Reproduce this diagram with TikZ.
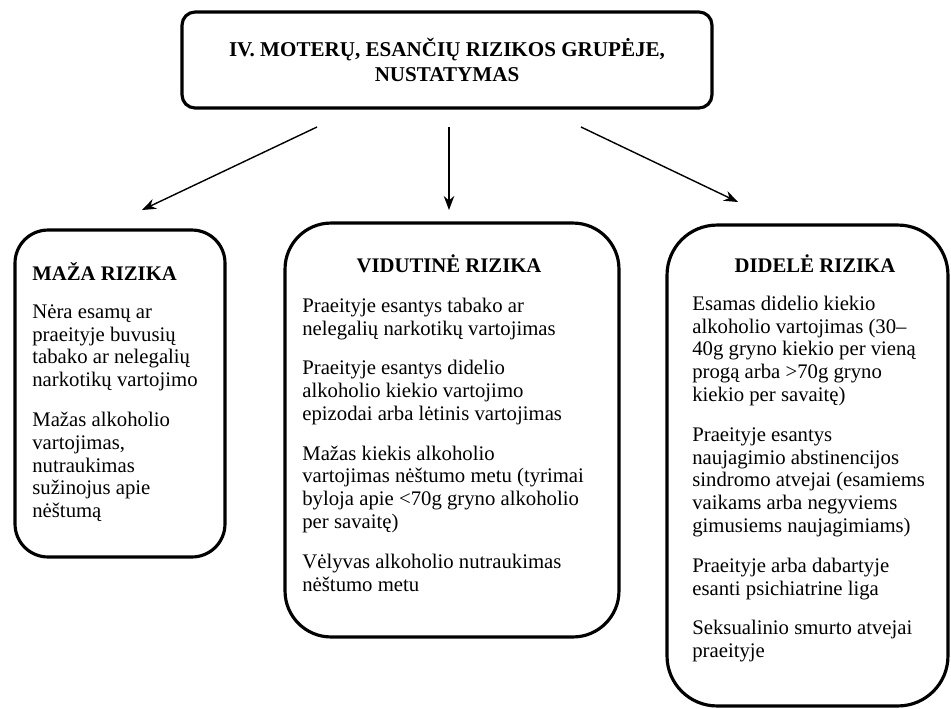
\documentclass[tikz,border=0pt]{standalone}
\usepackage{fontspec}
\setmainfont{Liberation Serif}
\usetikzlibrary{arrows.meta}

\newcommand{\firstline}{\rule{0pt}{9pt}}

\begin{document}
\begin{tikzpicture}[x=0.02cm, y=-0.02cm,
    riskbox/.style={rectangle, draw, line width=1.8pt},
    riskhead/.style={anchor=base, inner sep=0pt, font=\fontsize{11.8}{13}\selectfont\bfseries},
    risktext/.style={anchor=north west, inner sep=0pt, align=left, font=\fontsize{11.8}{13}\selectfont},
    link/.style={-{Stealth[length=8pt,width=6pt]}, line width=0.8pt}]
\useasboundingbox (0,0) rectangle (951,708);

% title box
\node[riskbox, rounded corners=0.26cm, minimum width=10.6cm, minimum height=1.92cm,
      align=center, font=\fontsize{12}{14}\selectfont\bfseries] (top) at (447,60)
      {IV. MOTERŲ, ESANČIŲ RIZIKOS GRUPĖJE,\\NUSTATYMAS};

% three risk boxes
\node[riskbox, rounded corners=0.66cm, minimum width=4.2cm, minimum height=6.54cm] (low) at (120,393.5) {};
\node[riskbox, rounded corners=0.92cm, minimum width=6.68cm, minimum height=8.28cm] (mid) at (452,430) {};
\node[riskbox, rounded corners=1.0cm, minimum width=5.62cm, minimum height=9.62cm] (high) at (807.5,465.5) {};

\node[riskhead, anchor=base west] (lowhead) at (32,280) {MAŽA RIZIKA};
\node[risktext] (lowtext) at (32,302) {\firstline Nėra esamų ar\\praeityje buvusių\\tabako ar nelegalių\\narkotikų vartojimo\\[9.6pt]
  Mažas alkoholio\\vartojimas,\\nutraukimas\\sužinojus apie\\nėštumą};

\node[riskhead] (midhead) at (449,272) {VIDUTINĖ RIZIKA};
\node[risktext] (midtext) at (302,296) {\firstline Praeityje esantys tabako ar\\nelegalių narkotikų vartojimas\\[9.6pt]
  Praeityje esantys didelio\\alkoholio kiekio vartojimo\\epizodai arba lėtinis vartojimas\\[9.6pt]
  Mažas kiekis alkoholio\\vartojimas nėštumo metu (tyrimai\\byloja apie <70g gryno alkoholio\\per savaitę)\\[9.6pt]
  Vėlyvas alkoholio nutraukimas\\nėštumo metu};

\node[riskhead] (highhead) at (815,272) {DIDELĖ RIZIKA};
\node[risktext] (hightext) at (692,294) {\firstline Esamas didelio kiekio\\alkoholio vartojimas (30–\\40g gryno kiekio per vieną\\progą arba >70g gryno\\kiekio per savaitę)\\[9.6pt]
  Praeityje esantys\\naujagimio abstinencijos\\sindromo atvejai (esamiems\\vaikams arba negyviems\\gimusiems naujagimiams)\\[9.6pt]
  Praeityje arba dabartyje\\esanti psichiatrine liga\\[9.6pt]
  Seksualinio smurto atvejai\\praeityje};

% arrows
\coordinate (lowfrom) at (317,127);
\coordinate (lowto) at (142,210);
\coordinate (midfrom) at (449,127);
\coordinate (midto) at (449,210);
\coordinate (highfrom) at (581,127);
\coordinate (highto) at (738,202);
\draw[link] (lowfrom) -- (lowto);
\draw[link] (midfrom) -- (midto);
\draw[link] (highfrom) -- (highto);
\end{tikzpicture}
\end{document}
